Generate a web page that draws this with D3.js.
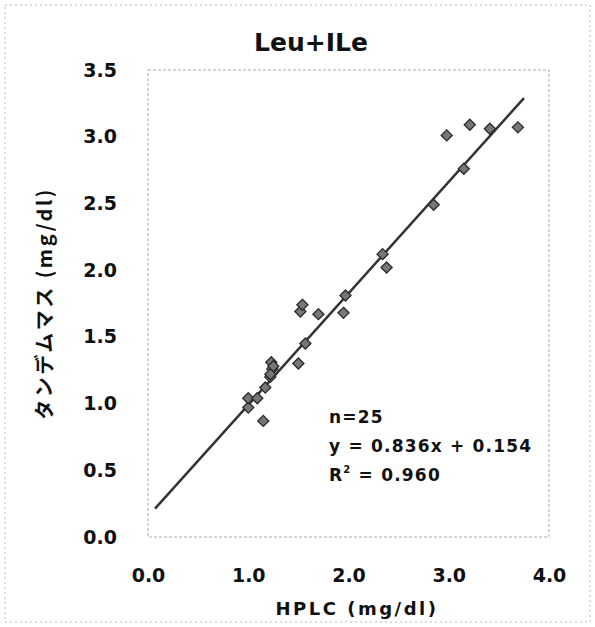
<!DOCTYPE html>
<html>
<head>
<meta charset="utf-8">
<script src="https://cdn.jsdelivr.net/npm/d3@7"></script>
<style>
  body { margin: 0; background: #fff; }
  text { font-family: "DejaVu Sans", sans-serif; font-weight: bold; fill: #111; }
</style>
</head>
<body>
<svg id="chart" width="595" height="627"></svg>
<script>
// HPLC (x) vs tandem mass (y), mg/dl
const hplc = [1.00, 1.00, 1.09, 1.15, 1.17, 1.22, 1.24, 1.23, 1.25, 1.22,
              1.50, 1.52, 1.54, 1.57, 1.70, 1.95, 1.97, 2.34, 2.38, 2.85,
              2.98, 3.15, 3.21, 3.41, 3.69];
const tandem = [0.97, 1.04, 1.04, 0.87, 1.12, 1.20, 1.26, 1.31, 1.28, 1.22,
                1.30, 1.69, 1.74, 1.45, 1.67, 1.68, 1.81, 2.12, 2.02, 2.49,
                3.01, 2.76, 3.09, 3.06, 3.07];
const xTicks = [0, 1, 2, 3, 4];
const yTicks = [0, 0.5, 1.0, 1.5, 2.0, 2.5, 3.0, 3.5];
const slope = 0.836, intercept = 0.154;
const fitRange = [0.07, 3.75];
const statLines = ['n=25', 'y = 0.836x + 0.154', ' = 0.960'];

const width = 595, height = 627;
const margin = {top: 70, right: 46, bottom: 90, left: 148};

const svg = d3.select('#chart');

const x = d3.scaleLinear().domain([0, 4]).range([margin.left, width - margin.right]);
const y = d3.scaleLinear().domain([0, 3.5]).range([height - margin.bottom, margin.top]);

// outer frame
svg.append('rect')
    .attr('x', 5).attr('y', 5)
    .attr('width', width - 10).attr('height', height - 10)
    .style('fill', 'none')
    .style('stroke', '#bbb')
    .style('stroke-dasharray', '2,3')
    .style('stroke-width', 1);

// plot frame
svg.append('rect')
    .attr('x', x(0)).attr('y', y(3.5))
    .attr('width', x(4) - x(0)).attr('height', y(0) - y(3.5))
    .style('fill', 'none')
    .style('stroke', '#aaa')
    .style('stroke-dasharray', '3,2')
    .style('stroke-width', 1);

// axes (labels only)
const xAxis = d3.axisBottom(x).tickValues(xTicks).tickSize(0).tickPadding(32).tickFormat(d3.format('.1f'));
const yAxis = d3.axisLeft(y).tickValues(yTicks).tickSize(0).tickPadding(31).tickFormat(d3.format('.1f'));

const tickStyle = sel => sel.selectAll('text')
    .style('font-size', '19px')
    .style('font-family', '"DejaVu Sans", sans-serif')
    .style('font-weight', 'bold')
    .style('fill', '#111');

svg.append('g')
    .attr('transform', `translate(0,${y(0)})`)
    .call(xAxis)
    .call(g => g.select('.domain').remove())
    .call(tickStyle);

svg.append('g')
    .attr('transform', `translate(${x(0)},0)`)
    .call(yAxis)
    .call(g => g.select('.domain').remove())
    .call(tickStyle);

// trend line
const line = d3.line().x(d => x(d)).y(d => y(slope * d + intercept));
svg.append('path')
    .datum(fitRange)
    .attr('d', line)
    .style('fill', 'none')
    .style('stroke', '#333')
    .style('stroke-width', 2.5);

// points
const pts = hplc.map((v, i) => ({x: v, y: tandem[i]}));
svg.append('g').selectAll('path')
    .data(pts)
    .enter()
    .append('path')
    .attr('d', d3.symbol().type(d3.symbolDiamond2).size(78))
    .attr('transform', d => `translate(${x(d.x)},${y(d.y)})`)
    .style('fill', '#777')
    .style('stroke', '#2a2a2a')
    .style('stroke-width', 1.3);

// title
svg.append('text')
    .attr('x', 311).attr('y', 51)
    .attr('text-anchor', 'middle')
    .style('font-size', '25px')
    .text('Leu+ILe');

// axis titles
svg.append('text')
    .attr('x', 357).attr('y', 615)
    .attr('text-anchor', 'middle')
    .style('font-size', '18px')
    .style('letter-spacing', '2.5px')
    .text('HPLC (mg/dl)');

svg.append('text')
    .attr('transform', `translate(52,${(y(0) + y(3.5)) / 2}) rotate(-90)`)
    .attr('text-anchor', 'middle')
    .style('font-size', '20px')
    .style('letter-spacing', '2.5px')
    .style('font-family', '"Noto Sans CJK JP", sans-serif')
    .text('タンデムマス (mg/dl)');

// stats
const stats = svg.append('g').attr('transform', 'translate(329,0)');
const statStyle = sel => sel.style('font-size', '17px').style('letter-spacing', '1.2px');
stats.append('text').attr('y', 423).call(statStyle).text(statLines[0]);
stats.append('text').attr('y', 452).call(statStyle).text(statLines[1]);
const r2 = stats.append('text').attr('y', 481).call(statStyle);
r2.append('tspan').text('R');
r2.append('tspan').attr('dy', -8).style('font-size', '10px').text('2');
r2.append('tspan').attr('dy', 8).text(statLines[2]);
</script>
</body>
</html>
